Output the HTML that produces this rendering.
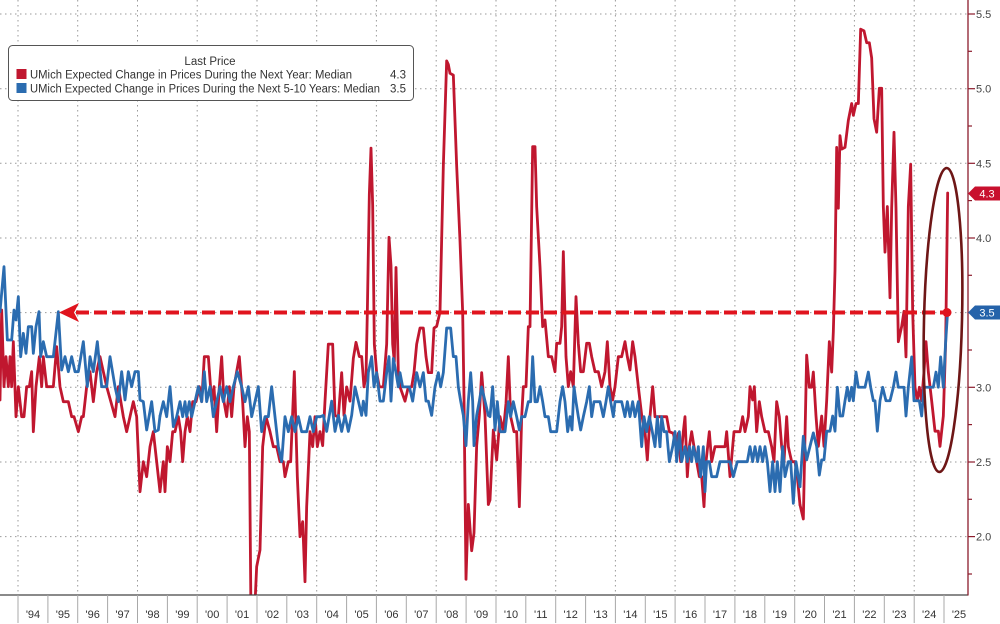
<!DOCTYPE html>
<html><head><meta charset="utf-8"><style>
html,body{margin:0;padding:0;background:#fff;width:1000px;height:624px;overflow:hidden;}
svg{display:block;position:absolute;left:0;top:0;}
text{font-family:"Liberation Sans",Arial,sans-serif;}
</style></head><body>
<svg width="1000" height="624" viewBox="0 0 1000 624" xmlns="http://www.w3.org/2000/svg" overflow="hidden">
<defs><clipPath id="pc"><rect x="0" y="0" width="968" height="595"/></clipPath></defs>
<rect width="1000" height="624" fill="#fff"/>
<!-- horizontal grid -->
<g stroke="#9a9a9a" stroke-width="1" stroke-dasharray="1.5 3.5">
<line x1="0" y1="14" x2="968" y2="14"/><line x1="0" y1="88.7" x2="968" y2="88.7"/>
<line x1="0" y1="163.3" x2="968" y2="163.3"/><line x1="0" y1="238" x2="968" y2="238"/>
<line x1="0" y1="312.6" x2="968" y2="312.6"/><line x1="0" y1="387.3" x2="968" y2="387.3"/>
<line x1="0" y1="462" x2="968" y2="462"/><line x1="0" y1="536.6" x2="968" y2="536.6"/>
</g>
<!-- vertical grid (even years) -->
<g stroke="#9a9a9a" stroke-width="1" stroke-dasharray="1.5 3.5">
<line x1="18" y1="0" x2="18" y2="595"/><line x1="77.7" y1="0" x2="77.7" y2="595"/>
<line x1="137.5" y1="0" x2="137.5" y2="595"/><line x1="197.2" y1="0" x2="197.2" y2="595"/>
<line x1="257" y1="0" x2="257" y2="595"/><line x1="316.7" y1="0" x2="316.7" y2="595"/>
<line x1="376.4" y1="0" x2="376.4" y2="595"/><line x1="436.2" y1="0" x2="436.2" y2="595"/>
<line x1="496" y1="0" x2="496" y2="595"/><line x1="555.7" y1="0" x2="555.7" y2="595"/>
<line x1="615.4" y1="0" x2="615.4" y2="595"/><line x1="675.1" y1="0" x2="675.1" y2="595"/>
<line x1="734.9" y1="0" x2="734.9" y2="595"/><line x1="794.7" y1="0" x2="794.7" y2="595"/>
<line x1="854.4" y1="0" x2="854.4" y2="595"/><line x1="914.2" y1="0" x2="914.2" y2="595"/>
</g>

<g clip-path="url(#pc)" fill="none" stroke-linejoin="round" stroke-linecap="round">
<!-- RED series -->
<g stroke="#c0172f">
<polyline vector-effect="non-scaling-stroke" stroke-width="2.8" transform="matrix(0.33333 0 0 0.33333 0 220)" points="0,540 5,270 12,500 18,410 25,500 30,410 35,500 40,365 48,590 55,500 65,590 72,590 80,500 88,500 95,455 100,635 108,500 118,410 125,500 130,410 140,500 160,500 170,380 180,500 190,545 205,545 215,590 222,590 235,635 245,590 250,590 260,500 270,455 280,545 290,455 300,410 320,500 345,590 355,500 370,590 380,635 390,590 400,545 410,590 420,815 430,725 440,770 450,680 460,635 470,725 480,815"/>
<polyline vector-effect="non-scaling-stroke" stroke-width="2.8" transform="matrix(0.33333 0 0 0.33333 160 220)" points="0,815 10,725 15,815 22,680 30,725 38,635 45,635 55,590 62,635 68,725 75,635 82,590 90,635 98,545 108,545 118,500 125,545 133,410 145,410 155,545 162,500 170,635 178,500 185,410 192,545 200,590 208,500 215,590 222,500 230,455 238,410 248,545 255,680 262,590 268,635 273,1195 283,1195 290,1040 300,990 308,680 318,590 330,635 340,680 350,680 360,725 370,725 375,770 385,725 392,725 403,455 412,770 420,950 428,905 435,1085 440,860 450,635 458,680 465,590 472,680 480,635"/>
<polyline vector-effect="non-scaling-stroke" stroke-width="2.8" transform="matrix(0.33333 0 0 0.3563 320 41.26)" points="0,1096 8,1135 15,1010 25,850 38,850 45,1050 55,1055 65,930 72,1050 80,970 90,1010 100,890 108,845 118,885 125,885 132,970 138,940 142,760 148,430 153,300 158,460 163,850 170,930 178,970 190,970 200,850 207,550 213,630 218,850 223,900 228,635 235,930 240,970 255,1010 265,970 275,970 282,930 290,850 300,805 310,805 318,885 325,930 335,930 342,805 350,800 360,760 370,350 380,55 385,65 390,90 400,95 410,350 420,560 428,760 432,1000 438,1510 445,1300 455,1430 462,1380 470,1135 478,1050 485,930 495,1050 505,1300"/>
<polyline vector-effect="non-scaling-stroke" stroke-width="2.8" transform="matrix(0.33333 0 0 0.33333 490 130)" points="-5,1123 0,1110 10,900 20,990 30,860 40,905 48,820 55,680 62,860 72,905 80,905 88,1130 95,860 100,770 108,770 115,590 120,590 128,50 135,50 140,230 150,410 158,590 165,570 175,680 185,680 195,725 200,640 210,640 215,590 220,365 228,680 235,770 242,725 250,770 258,500 265,640 272,725 280,725 290,640 298,640 305,680 315,725 325,725 335,770 345,725 352,635 360,770 368,810 375,770 385,680 395,680 405,635 412,680 420,720 428,635 435,680 445,770 455,855 465,905 472,990 480,860 488,770 495,860 505,860 510,860"/>
<polyline vector-effect="non-scaling-stroke" stroke-width="2.8" transform="matrix(0.33333 0 0 0.33333 660 300)" points="0,350 10,350 20,350 28,395 40,400 48,440 55,400 62,485 70,395 75,350 82,530 88,440 95,395 102,440 110,485 118,530 125,530 132,620 138,485 148,395 155,485 165,440 175,440 185,440 195,440 200,395 210,530 222,395 232,395 240,395 248,350 255,395 265,350 270,260 278,300 283,260 290,395 298,305 305,350 315,395 325,395 335,440 342,485 350,305 358,350 365,440 372,485 380,350 385,440 395,485 405,485 412,530 420,615"/>
<polyline vector-effect="non-scaling-stroke" stroke-width="2.8" transform="matrix(0.33333 0 0 0.3378 800 0.49)" points="0,1493 10,1535 15,1290 20,1050 28,1145 35,1145 40,1100 48,1230 55,1320 65,1230 72,1320 80,1185 88,1010 95,1100 100,980 105,800 110,435 115,615 120,400 125,440 135,435 145,355 155,305 160,340 168,305 175,305 182,85 192,90 200,125 208,125 215,170 222,350 230,390 238,260 245,260 250,610 255,745 262,610 270,880 275,615 282,390 288,615 295,1010 305,965 312,920 318,1055 325,610 332,485 338,920 345,1145 352,1185 358,1145 365,1185 372,1100 378,1010 385,1100 395,1185 405,1275 415,1275 420,1320 430,1230 437,1010 443,570"/>
</g>
<!-- BLUE series -->
<g stroke="#2b6cb0">
<polyline vector-effect="non-scaling-stroke" stroke-width="2.8" transform="matrix(0.33333 0 0 0.33333 0 220)" points="0,275 12,140 22,360 35,360 42,270 48,300 55,230 62,410 70,340 78,400 85,320 95,320 100,400 108,320 117,275 122,410 130,365 140,410 160,410 175,275 185,450 195,410 205,455 215,410 225,455 235,455 250,365 262,500 270,410 280,455 292,365 305,500 320,500 330,410 345,500 355,545 365,455 375,540 385,455 395,500 405,455 415,455 420,540 430,545 440,630 455,545 465,635 475,630 480,588"/>
<polyline vector-effect="non-scaling-stroke" stroke-width="2.8" transform="matrix(0.33333 0 0 0.33333 160 220)" points="0,588 10,545 20,590 30,500 40,620 50,590 60,545 68,590 75,545 80,590 88,545 95,590 105,545 115,500 125,545 133,455 140,545 150,500 160,590 170,545 180,500 190,545 200,500 210,545 220,500 232,455 245,500 255,545 265,500 275,590 285,545 295,500 305,635 315,590 325,590 335,500 345,590 355,680 365,725 375,590 385,635 395,590 405,635 415,590 425,635 440,635 450,590 460,635 470,590 480,590"/>
<polyline vector-effect="non-scaling-stroke" stroke-width="2.8" transform="matrix(0.33333 0 0 0.3563 320 41.26)" points="0,1054 10,1050 20,1095 35,1010 45,1095 55,1050 65,1095 75,1050 85,1095 95,1050 105,970 115,1010 125,1050 130,1010 138,1050 145,930 155,885 162,970 170,930 180,1010 190,1010 200,930 207,885 213,1010 220,890 228,930 235,970 240,930 248,970 258,970 268,970 278,1010 290,930 300,970 310,930 318,1010 325,1010 335,1050 345,970 355,930 362,970 370,930 380,805 392,805 400,885 408,885 415,970 422,1010 430,1050 438,1135 445,1010 452,930 458,1010 462,1135 470,1050 478,1010 485,970 495,1010 505,1050"/>
<polyline vector-effect="non-scaling-stroke" stroke-width="2.8" transform="matrix(0.33333 0 0 0.33333 490 130)" points="-5,856 0,860 8,770 15,900 22,815 30,905 45,905 55,815 62,860 70,815 80,860 88,900 95,860 105,860 115,815 122,815 128,680 135,815 142,815 150,770 158,815 165,860 175,860 182,905 200,905 210,815 218,770 225,815 233,905 240,860 246,900 252,770 258,815 265,860 272,900 280,860 290,815 298,770 305,860 312,815 320,815 330,815 340,860 348,815 355,770 362,815 370,860 375,815 385,815 395,815 405,860 412,815 420,860 428,815 435,860 445,815 455,950 462,860 470,905 478,860 486,900 495,950 502,860 510,950"/>
<polyline vector-effect="non-scaling-stroke" stroke-width="2.8" transform="matrix(0.33333 0 0 0.33333 660 300)" points="0,440 5,350 12,395 20,395 28,485 38,440 45,395 50,485 58,395 65,485 75,440 82,485 88,440 95,485 100,440 110,485 115,440 122,530 130,440 135,575 140,485 148,485 155,530 170,530 180,485 190,485 198,485 205,485 210,485 220,530 232,485 250,485 262,485 270,440 278,485 285,440 293,485 300,440 308,485 315,440 322,485 330,575 338,485 345,575 352,485 360,575 368,440 375,530 385,485 392,485 400,610 408,485 415,530 420,560"/>
<polyline vector-effect="non-scaling-stroke" stroke-width="2.8" transform="matrix(0.33333 0 0 0.3378 800 0.49)" points="0,1439 10,1290 20,1360 30,1320 40,1280 50,1320 58,1405 65,1360 72,1360 80,1275 90,1275 98,1230 105,1275 112,1145 120,1230 128,1230 135,1185 142,1145 148,1185 155,1145 160,1185 168,1100 175,1145 185,1145 195,1145 205,1100 212,1145 220,1185 225,1185 232,1275 240,1185 248,1145 258,1185 270,1185 280,1145 288,1100 295,1145 305,1145 312,1145 318,1230 325,1145 335,1055 342,1185 350,1185 358,1185 365,1230 372,1145 380,1145 390,1145 400,1145 408,1100 415,1145 422,1055 430,1145 437,1010 443,920"/>
</g>
</g>

<!-- dashed arrow -->
<line x1="76" y1="312.5" x2="945" y2="312.5" stroke="#e0141e" stroke-width="4" stroke-dasharray="13 5"/>
<polygon points="59,312.5 79,303 74,312.5 79,322" fill="#e0141e"/>
<circle cx="947" cy="312.5" r="4.5" fill="#e0141e"/>
<!-- ellipse -->
<ellipse cx="943" cy="320" rx="19" ry="152" fill="none" stroke="#6e1616" stroke-width="2.6" transform="rotate(1.4 943 320)"/>

<!-- axes -->
<line x1="0" y1="595" x2="968" y2="595" stroke="#444" stroke-width="1.2"/>
<line x1="968" y1="0" x2="968" y2="595.5" stroke="#8c1c2c" stroke-width="1.3"/>
<g stroke="#8c1c2c" stroke-width="1.2">
<line x1="968" y1="14" x2="975" y2="14"/><line x1="968" y1="88.7" x2="975" y2="88.7"/>
<line x1="968" y1="163.3" x2="975" y2="163.3"/><line x1="968" y1="238" x2="975" y2="238"/>
<line x1="968" y1="387.3" x2="975" y2="387.3"/><line x1="968" y1="462" x2="975" y2="462"/>
<line x1="968" y1="536.6" x2="975" y2="536.6"/>
<line x1="968" y1="51.3" x2="972" y2="51.3"/><line x1="968" y1="126" x2="972" y2="126"/>
<line x1="968" y1="200.6" x2="972" y2="200.6"/><line x1="968" y1="275.3" x2="972" y2="275.3"/>
<line x1="968" y1="350" x2="972" y2="350"/><line x1="968" y1="424.6" x2="972" y2="424.6"/>
<line x1="968" y1="499.3" x2="972" y2="499.3"/><line x1="968" y1="574" x2="972" y2="574"/>
</g>
<g font-size="11" fill="#444">
<text x="976" y="18">5.5</text><text x="976" y="92.7">5.0</text>
<text x="976" y="167.3">4.5</text><text x="976" y="242">4.0</text>
<text x="976" y="391.3">3.0</text><text x="976" y="466">2.5</text>
<text x="976" y="540.6">2.0</text>
</g>
<polygon points="968,193.5 975,186.5 1000,186.5 1000,200.5 975,200.5" fill="#c8102e"/>
<text x="987" y="197.5" font-size="11" fill="#fff" text-anchor="middle">4.3</text>
<polygon points="968,312.5 975,305.5 1000,305.5 1000,319.5 975,319.5" fill="#2563aa"/>
<text x="987" y="316.5" font-size="11" fill="#fff" text-anchor="middle">3.5</text>

<!-- x axis ticks and labels -->
<g stroke="#a8a8a8" stroke-width="1">
<line x1="18" y1="595" x2="18" y2="623"/><line x1="47.9" y1="595" x2="47.9" y2="623"/><line x1="77.7" y1="595" x2="77.7" y2="623"/><line x1="107.6" y1="595" x2="107.6" y2="623"/><line x1="137.5" y1="595" x2="137.5" y2="623"/><line x1="167.4" y1="595" x2="167.4" y2="623"/><line x1="197.2" y1="595" x2="197.2" y2="623"/><line x1="227.1" y1="595" x2="227.1" y2="623"/><line x1="257" y1="595" x2="257" y2="623"/><line x1="286.8" y1="595" x2="286.8" y2="623"/><line x1="316.7" y1="595" x2="316.7" y2="623"/><line x1="346.6" y1="595" x2="346.6" y2="623"/><line x1="376.4" y1="595" x2="376.4" y2="623"/><line x1="406.3" y1="595" x2="406.3" y2="623"/><line x1="436.2" y1="595" x2="436.2" y2="623"/><line x1="466.1" y1="595" x2="466.1" y2="623"/><line x1="496" y1="595" x2="496" y2="623"/><line x1="525.8" y1="595" x2="525.8" y2="623"/><line x1="555.7" y1="595" x2="555.7" y2="623"/><line x1="585.6" y1="595" x2="585.6" y2="623"/><line x1="615.4" y1="595" x2="615.4" y2="623"/><line x1="645.3" y1="595" x2="645.3" y2="623"/><line x1="675.1" y1="595" x2="675.1" y2="623"/><line x1="705" y1="595" x2="705" y2="623"/><line x1="734.9" y1="595" x2="734.9" y2="623"/><line x1="764.8" y1="595" x2="764.8" y2="623"/><line x1="794.7" y1="595" x2="794.7" y2="623"/><line x1="824.5" y1="595" x2="824.5" y2="623"/><line x1="854.4" y1="595" x2="854.4" y2="623"/><line x1="884.3" y1="595" x2="884.3" y2="623"/><line x1="914.2" y1="595" x2="914.2" y2="623"/><line x1="944" y1="595" x2="944" y2="623"/>
</g>
<g font-size="11" fill="#333" text-anchor="middle">
<text x="33" y="618">'94</text><text x="62.9" y="618">'95</text><text x="92.7" y="618">'96</text><text x="122.6" y="618">'97</text><text x="152.5" y="618">'98</text><text x="182.4" y="618">'99</text><text x="212.2" y="618">'00</text><text x="242.1" y="618">'01</text><text x="272" y="618">'02</text><text x="301.8" y="618">'03</text><text x="331.7" y="618">'04</text><text x="361.6" y="618">'05</text><text x="391.4" y="618">'06</text><text x="421.3" y="618">'07</text><text x="451.2" y="618">'08</text><text x="481.1" y="618">'09</text><text x="511" y="618">'10</text><text x="540.8" y="618">'11</text><text x="570.7" y="618">'12</text><text x="600.6" y="618">'13</text><text x="630.4" y="618">'14</text><text x="660.3" y="618">'15</text><text x="690.1" y="618">'16</text><text x="720" y="618">'17</text><text x="749.9" y="618">'18</text><text x="779.8" y="618">'19</text><text x="809.7" y="618">'20</text><text x="839.5" y="618">'21</text><text x="869.4" y="618">'22</text><text x="899.3" y="618">'23</text><text x="929.2" y="618">'24</text><text x="959" y="618">'25</text>
</g>

<!-- legend -->
<rect x="8.5" y="45.5" width="405" height="55" rx="4" ry="4" fill="#fff" stroke="#555" stroke-width="1"/>
<text x="210" y="65" font-size="11.5" fill="#333" text-anchor="middle">Last Price</text>
<rect x="16.5" y="69" width="10" height="10" fill="#c0172f"/>
<rect x="16.5" y="83" width="10" height="10" fill="#2b6cb0"/>
<text x="30" y="78.3" font-size="11.5" fill="#333" textLength="322" lengthAdjust="spacingAndGlyphs">UMich Expected Change in Prices During the Next Year: Median</text>
<text x="30" y="92.5" font-size="11.5" fill="#333" textLength="350" lengthAdjust="spacingAndGlyphs">UMich Expected Change in Prices During the Next 5-10 Years: Median</text>
<text x="406" y="78.3" font-size="11.5" fill="#333" text-anchor="end">4.3</text>
<text x="406" y="92.5" font-size="11.5" fill="#333" text-anchor="end">3.5</text>
</svg>
</body></html>
